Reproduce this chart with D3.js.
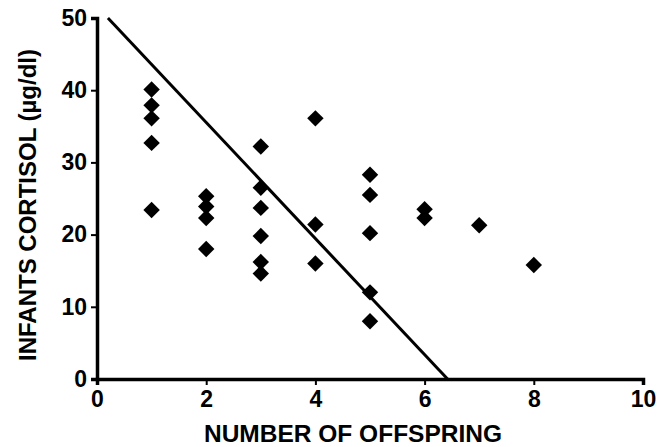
<!DOCTYPE html>
<html>
<head>
<meta charset="utf-8">
<script src="https://cdn.jsdelivr.net/npm/d3@7"></script>
<style>
  body { margin: 0; background: #fff; }
  text { font-family: "Liberation Sans", Arial, Helvetica, sans-serif; font-weight: bold; }
</style>
</head>
<body>
<div id="chart-area"></div>
<script>
// offspring count and infant cortisol readings (ug/dl)
var offspring = [1, 1, 1, 1, 1,
                 2, 2, 2, 2,
                 3, 3, 3, 3, 3, 3,
                 4, 4, 4,
                 5, 5, 5, 5, 5,
                 6, 6,
                 7,
                 8];
var cortisol = [40.1, 37.9, 36.1, 32.7, 23.4,
                25.3, 23.9, 22.3, 18.0,
                32.2, 26.5, 23.7, 19.8, 16.2, 14.6,
                36.1, 21.4, 16.0,
                28.3, 25.5, 20.2, 12.0, 8.0,
                23.5, 22.3,
                21.3,
                15.8];
// regression line end points
var fitX = [0.2, 6.42];
var fitY = [50, 0];

var xTicks = [0, 2, 4, 6, 8, 10];
var yTicks = [0, 10, 20, 30, 40, 50];

var width = 668, height = 447;

var svg = d3.select("#chart-area").append("svg")
    .attr("width", width)
    .attr("height", height);

var x = d3.scaleLinear().domain([0, 10]).range([97, 643]);
var y = d3.scaleLinear().domain([0, 50]).range([379, 18]);

var xAxis = svg.append("g")
    .attr("transform", "translate(0," + y(0) + ")")
    .call(d3.axisBottom(x).tickValues(xTicks).tickSize(6).tickSizeOuter(6).tickPadding(6));

var yAxis = svg.append("g")
    .attr("transform", "translate(" + x(0) + ",0)")
    .call(d3.axisLeft(y).tickValues(yTicks).tickSize(6).tickSizeOuter(6).tickPadding(4));

[xAxis, yAxis].forEach(function(g){
    g.select(".domain").attr("stroke", "#000").attr("stroke-width", 3.5);
    g.selectAll(".tick line").attr("stroke", "#000").attr("stroke-width", 2);
    g.selectAll(".tick text")
        .attr("fill", "#000")
        .style("font-size", "23px");
});

// fit line
var line = d3.line()
    .x(function(d){ return x(d[0]); })
    .y(function(d){ return y(d[1]); });

svg.append("path")
    .datum(d3.zip(fitX, fitY))
    .attr("d", line)
    .attr("fill", "none")
    .attr("stroke", "#000")
    .attr("stroke-width", 3);

// diamonds
var diamond = d3.symbol().type(d3.symbolSquare).size(135);

svg.selectAll("path.pt")
    .data(d3.zip(offspring, cortisol))
    .enter()
    .append("path")
    .attr("class", "pt")
    .attr("d", diamond)
    .attr("transform", function(d){
        return "translate(" + x(d[0]) + "," + y(d[1]) + ") rotate(45)";
    })
    .attr("fill", "#000");

// axis titles
svg.append("text")
    .attr("x", 353)
    .attr("y", 442)
    .attr("text-anchor", "middle")
    .style("font-size", "24.5px")
    .text("NUMBER OF OFFSPRING");

svg.append("text")
    .attr("transform", "translate(36,205) rotate(-90)")
    .attr("text-anchor", "middle")
    .style("font-size", "24px")
    .text("INFANTS CORTISOL (µg/dl)");
</script>
</body>
</html>
